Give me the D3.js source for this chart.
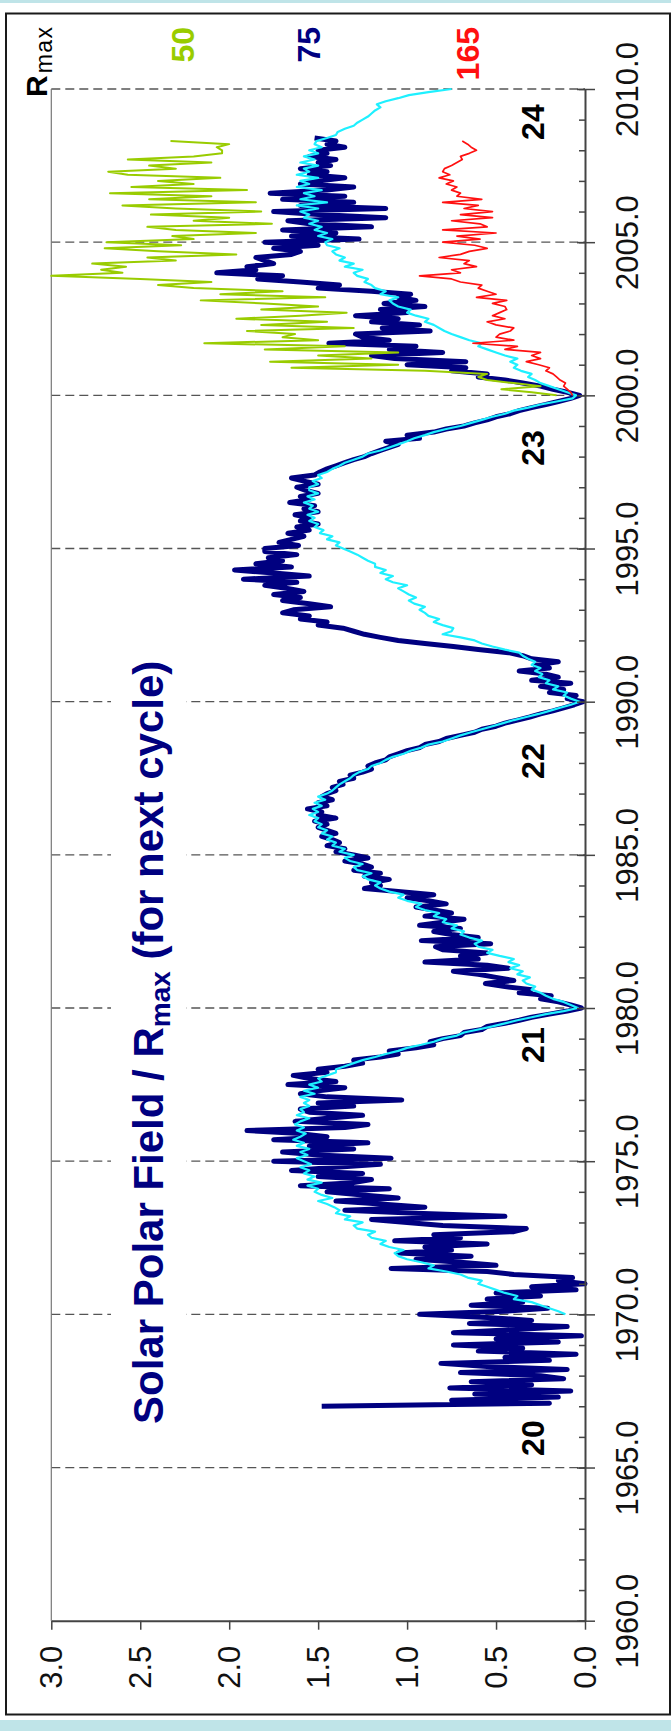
<!DOCTYPE html>
<html>
<head>
<meta charset="utf-8">
<script src="https://cdn.jsdelivr.net/npm/d3@7"></script>
<style>
html,body{margin:0;padding:0;background:#fff;}
svg{display:block;}
</style>
</head>
<body>
<svg id="chart" width="671" height="1731"></svg>
<script>
// ---------- data ----------
const yearTicks = [1960, 1965, 1970, 1975, 1980, 1985, 1990, 1995, 2000, 2005, 2010];
const gridYears = [1965, 1970, 1975, 1980, 1985, 1990, 1995, 2000, 2005, 2010];
const valueTicks = [0, 0.5, 1.0, 1.5, 2.0, 2.5, 3.0];
const cycleLabels = ["20", "21", "22", "23", "24"];
const cycleYears = [1965.96, 1978.79, 1988.06, 1998.28, 2008.92];
const rmaxLabels = ["50", "75", "165"];
const rmaxLabelValues = [2.26, 1.55, 0.66];
const step = 0.1;

// Observed polar field / Rmax (next cycle), navy, from 1967.0
const navyStart = 1967.0;
const navyValues = [
 1.48,0.20,0.75,0.15,0.62,0.08,0.76,0.30,0.64,0.12,
 0.25,0.70,0.10,0.55,0.81,0.20,0.45,0.05,0.60,0.35,
 0.74,0.15,0.50,0.02,0.74,0.40,0.10,0.65,0.30,0.55,
 0.93,0.45,0.21,0.64,0.35,0.55,0.25,0.50,0.05,0.30,
 0.00,0.15,0.07,0.40,0.55,1.09,0.50,0.70,0.95,0.64,
 1.05,0.75,0.90,0.55,1.07,0.70,0.85,0.40,0.33,0.80,
 1.00,1.20,0.45,0.95,1.35,0.90,1.15,1.40,1.05,1.25,
 1.45,1.10,1.60,1.30,1.20,1.50,1.25,1.65,1.40,1.15,
 1.75,1.09,1.50,1.70,1.30,1.55,1.22,1.75,1.45,1.60,
 1.90,1.35,1.22,1.63,1.45,1.25,1.55,1.60,1.30,1.50,
 1.03,1.45,1.60,1.50,1.35,1.67,1.40,1.55,1.64,1.45,
 1.50,1.35,1.25,1.30,1.15,1.05,1.10,0.95,0.85,0.87,
 0.80,0.70,0.68,0.58,0.55,0.45,0.37,0.30,0.20,0.10,
 0.02,0.08,0.15,0.25,0.19,0.37,0.30,0.45,0.56,0.40,
 0.50,0.60,0.74,0.43,0.55,0.90,0.60,0.70,0.55,0.80,
 0.84,0.53,0.92,0.60,0.75,0.85,0.70,0.93,0.80,0.68,
 0.90,0.75,0.85,0.95,0.78,0.88,1.00,0.85,1.05,1.24,
 1.15,1.20,1.10,1.24,1.15,1.30,1.20,1.25,1.35,1.22,
 1.30,1.40,1.35,1.45,1.38,1.42,1.48,1.40,1.45,1.50,
 1.45,1.52,1.40,1.50,1.48,1.56,1.45,1.50,1.42,1.48,
 1.45,1.40,1.42,1.36,1.38,1.30,1.32,1.25,1.20,1.22,
 1.18,1.12,1.10,1.05,1.00,0.93,0.90,0.82,0.78,0.70,
 0.62,0.58,0.50,0.45,0.38,0.31,0.25,0.18,0.12,0.06,
 0.01,0.10,0.05,0.20,0.12,0.25,0.08,0.30,0.15,0.22,
 0.37,0.20,0.28,0.15,0.30,0.35,0.43,0.60,0.74,0.90,
 1.05,1.15,1.24,1.30,1.36,1.50,1.45,1.60,1.55,1.70,
 1.64,1.43,1.55,1.70,1.60,1.75,1.58,1.68,1.80,1.62,
 1.92,1.55,1.75,1.97,1.65,1.85,1.70,1.78,1.62,1.80,
 1.80,1.61,1.72,1.65,1.58,1.67,1.55,1.62,1.50,1.60,
 1.55,1.63,1.50,1.58,1.52,1.66,1.55,1.60,1.50,1.57,
 1.62,1.50,1.58,1.65,1.52,1.49,1.45,1.40,1.35,1.30,
 1.24,1.20,1.15,1.10,1.05,1.12,0.93,1.00,0.85,0.78,
 0.68,0.62,0.55,0.50,0.42,0.37,0.30,0.22,0.15,0.08,
 0.03,0.10,0.18,0.25,0.35,0.45,0.60,0.55,0.75,0.67,
 1.00,0.67,1.07,1.20,0.80,1.10,0.95,1.44,1.10,1.25,
 1.29,0.87,1.14,0.93,1.20,1.05,1.29,1.00,1.15,0.90,
 1.13,0.95,1.05,0.98,1.20,1.50,1.38,1.60,1.84,1.70,
 2.07,1.85,1.90,1.75,1.80,1.85,1.65,1.60,1.75,1.50,
 1.80,1.27,1.65,1.40,1.70,1.20,1.55,1.67,1.12,1.50,
 1.75,1.12,1.60,1.30,1.70,1.35,1.77,1.45,1.30,1.60,
 1.50,1.35,1.55,1.45,1.60,1.43,1.50,1.40,1.55,1.45,
 1.50,1.35,1.45,1.40,1.52
];

// Second measurement, cyan, from 1970.0
const cyanStart = 1970.0;
const cyanValues = [
 0.11,0.15,0.20,0.25,0.30,0.40,0.38,0.45,0.50,0.55,
 0.60,0.58,0.66,0.70,0.78,0.88,0.85,0.92,1.00,1.05,
 1.07,1.02,1.10,1.15,1.12,1.20,1.22,1.18,1.28,1.30,
 1.25,1.35,1.32,1.40,1.38,1.41,1.45,1.50,1.42,1.48,
 1.52,1.50,1.56,1.48,1.56,1.52,1.58,1.55,1.60,1.54,
 1.58,1.62,1.56,1.60,1.55,1.62,1.58,1.64,1.60,1.57,
 1.62,1.58,1.63,1.60,1.55,1.62,1.58,1.60,1.55,1.58,
 1.55,1.60,1.52,1.58,1.50,1.55,1.48,1.50,1.45,1.40,
 1.40,1.35,1.30,1.25,1.18,1.12,1.05,1.00,0.92,0.85,
 0.80,0.72,0.68,0.60,0.52,0.45,0.38,0.30,0.22,0.12,
 0.04,0.08,0.12,0.18,0.22,0.25,0.30,0.28,0.33,0.35,
 0.31,0.38,0.35,0.42,0.37,0.43,0.40,0.48,0.55,0.52,
 0.60,0.62,0.58,0.65,0.70,0.68,0.75,0.72,0.80,0.78,
 0.85,0.82,0.90,0.95,0.92,1.00,1.05,1.02,1.10,1.15,
 1.18,1.15,1.22,1.25,1.20,1.28,1.30,1.25,1.32,1.35,
 1.30,1.38,1.35,1.42,1.40,1.45,1.42,1.48,1.45,1.50,
 1.48,1.52,1.50,1.55,1.50,1.53,1.48,1.52,1.46,1.50,
 1.45,1.42,1.40,1.38,1.35,1.32,1.30,1.27,1.22,1.20,
 1.15,1.12,1.08,1.02,0.98,0.92,0.88,0.80,0.75,0.70,
 0.64,0.58,0.52,0.46,0.40,0.33,0.26,0.20,0.14,0.08,
 0.03,0.08,0.12,0.10,0.18,0.15,0.22,0.20,0.26,0.24,
 0.28,0.25,0.30,0.28,0.32,0.35,0.37,0.45,0.52,0.58,
 0.62,0.70,0.80,0.75,0.74,0.80,0.85,0.82,0.88,0.90,
 0.93,0.90,0.96,0.99,0.95,0.99,1.02,1.05,1.00,1.08,
 1.12,1.08,1.15,1.12,1.18,1.18,1.22,1.25,1.28,1.32,
 1.36,1.40,1.38,1.45,1.42,1.49,1.47,1.52,1.50,1.55,
 1.52,1.56,1.50,1.55,1.53,1.58,1.52,1.56,1.50,1.55,
 1.55,1.50,1.53,1.48,1.50,1.45,1.42,1.38,1.35,1.30,
 1.25,1.22,1.15,1.10,1.05,1.00,0.96,0.90,0.85,0.78,
 0.70,0.64,0.58,0.52,0.45,0.40,0.32,0.25,0.16,0.07,
 0.05,0.10,0.15,0.20,0.25,0.28,0.32,0.30,0.36,0.40,
 0.38,0.42,0.38,0.45,0.50,0.55,0.60,0.58,0.65,0.70,
 0.75,0.79,0.82,0.85,0.90,0.88,0.95,1.00,0.98,1.05,
 1.08,1.10,1.05,1.15,1.12,1.18,1.20,1.24,1.22,1.28,
 1.30,1.25,1.35,1.30,1.38,1.35,1.40,1.42,1.38,1.45,
 1.46,1.42,1.50,1.45,1.52,1.48,1.55,1.50,1.58,1.55,
 1.60,1.50,1.62,1.45,1.60,1.52,1.58,1.48,1.62,1.55,
 1.60,1.50,1.62,1.55,1.58,1.50,1.60,1.52,1.58,1.50,
 1.55,1.48,1.52,1.51,1.45,1.40,1.39,1.35,1.30,1.28,
 1.25,1.22,1.20,1.18,1.15,1.17,1.12,1.05,0.99,0.88,
 0.75
];

// Cycle 24 normalised with Rmax = 50 (green)
const greenStart = 2000.0;
const greenValues = [
 0.16,0.30,0.47,0.25,0.40,0.55,0.60,0.55,0.90,1.65,
 1.05,1.77,1.20,1.50,1.05,1.80,1.35,2.14,1.50,1.70,
 1.63,1.90,1.30,1.82,1.45,1.96,1.60,1.34,1.82,1.50,
 1.80,2.16,1.46,2.05,1.70,2.20,2.40,2.10,2.50,3.00,
 2.60,2.72,2.58,2.77,2.30,2.46,1.96,2.40,2.70,2.27,
 2.69,2.20,2.32,1.85,2.30,2.46,1.76,2.20,2.00,2.44,
 1.82,2.30,2.60,1.85,2.45,2.10,2.67,1.90,2.55,2.20,
 2.40,2.05,2.57,2.68,2.30,2.45,2.10,2.57,2.20,2.04,
 2.04,2.07,2.00,2.33
];

// Cycle 24 normalised with Rmax = 165 (red)
const redStart = 2000.0;
const redValues = [
 0.07,0.08,0.10,0.12,0.11,0.14,0.16,0.18,0.22,0.20,
 0.26,0.33,0.25,0.30,0.25,0.45,0.38,0.63,0.40,0.50,
 0.48,0.42,0.40,0.50,0.55,0.45,0.52,0.48,0.44,0.45,
 0.52,0.44,0.61,0.50,0.55,0.60,0.58,0.70,0.75,0.93,
 0.70,0.75,0.61,0.68,0.65,0.82,0.70,0.65,0.55,0.62,
 0.80,0.59,0.72,0.50,0.80,0.55,0.59,0.75,0.52,0.70,
 0.52,0.68,0.60,0.80,0.58,0.72,0.70,0.75,0.72,0.78,
 0.74,0.82,0.76,0.80,0.79,0.75,0.72,0.69,0.70,0.65,
 0.61,0.64,0.66,0.69
];

// ---------- drawing ----------
const W = 671, H = 1731;
const FONT = "'Liberation Sans', Arial, Helvetica, sans-serif";
const svg = d3.select("#chart");

const y = d3.scaleLinear().domain([1960, 2010]).range([1620.7, 89]);   // years run vertically
const x = d3.scaleLinear().domain([0, 3]).range([585, 51.3]);          // values run horizontally (0 at right)

// page background bands and frame
svg.append("rect").attr("x", 0).attr("y", 0).attr("width", W).attr("height", H).attr("fill", "#fff");
svg.append("rect").attr("x", 0).attr("y", 0).attr("width", W).attr("height", 3).attr("fill", "#bfe4e8");
svg.append("rect").attr("x", 0).attr("y", 1720).attr("width", W).attr("height", H - 1720).attr("fill", "#bfe4e8");
svg.append("rect").attr("x", 6).attr("y", 13.5).attr("width", 664).attr("height", 1701)
  .attr("fill", "#fff").attr("stroke", "#1a1a1a").attr("stroke-width", 2);

// gridlines (dashed, every 5 years)
svg.append("g").selectAll("line").data(gridYears).join("line")
  .attr("x1", x(3)).attr("x2", x(0))
  .attr("y1", d => y(d)).attr("y2", d => y(d))
  .attr("stroke", "#555").attr("stroke-width", 1.3).attr("stroke-dasharray", "9,5");

// left plot border
svg.append("line").attr("x1", x(3)).attr("x2", x(3)).attr("y1", y(2010)).attr("y2", y(1960))
  .attr("stroke", "#777").attr("stroke-width", 1.2);

// title with white backing
const titleG = svg.append("g").attr("transform", `translate(163,1424) rotate(-90)`);
const titleBg = titleG.append("rect").attr("fill", "#fff");
const title = titleG.append("text")
  .attr("font-family", FONT).attr("font-weight", "bold").attr("font-size", 42)
  .attr("fill", "#000080");
title.append("tspan").text("Solar Polar Field / R");
title.append("tspan").attr("font-size", 28).attr("dy", 7).text("max");
title.append("tspan").attr("dy", -7).text(" (for next cycle)");
const tb = title.node().getBBox();
titleBg.attr("x", tb.x - 6).attr("y", tb.y - 14).attr("width", tb.width + 12).attr("height", tb.height + 24);

// series lines
const line = d3.line().x(d => x(d.v)).y(d => y(d.t)).curve(d3.curveLinear);
function toPts(start, vals) { return vals.map((v, i) => ({ t: start + i * step, v })); }

svg.append("path").datum(toPts(navyStart, navyValues))
  .attr("d", line).attr("fill", "none").attr("stroke", "#000080")
  .attr("stroke-width", 5).attr("stroke-linejoin", "round");
svg.append("path").datum(toPts(cyanStart, cyanValues))
  .attr("d", line).attr("fill", "none").attr("stroke", "#1ef0ff")
  .attr("stroke-width", 2.2).attr("stroke-linejoin", "round");
svg.append("path").datum(toPts(greenStart, greenValues))
  .attr("d", line).attr("fill", "none").attr("stroke", "#99cc00")
  .attr("stroke-width", 2).attr("stroke-linejoin", "round");
svg.append("path").datum(toPts(redStart, redValues))
  .attr("d", line).attr("fill", "none").attr("stroke", "#ff1010")
  .attr("stroke-width", 1.7).attr("stroke-linejoin", "round");

// right (year) axis: minor ticks every year, major every 5
const gYminor = svg.append("g").attr("transform", `translate(${x(0)},0)`)
  .call(d3.axisRight(y).tickValues(d3.range(1960, 2011, 1)).tickSize(-6).tickSizeOuter(0).tickFormat(""));
gYminor.select(".domain").attr("stroke", "#444").attr("stroke-width", 2);
gYminor.selectAll(".tick line").attr("stroke", "#444").attr("stroke-width", 1.5);

const gY = svg.append("g").attr("transform", `translate(${x(0)},0)`)
  .call(d3.axisRight(y).tickValues(yearTicks).tickSize(10).tickPadding(0).tickFormat(d3.format(".1f")));
gY.select(".domain").remove();
gY.selectAll(".tick line").attr("x1", -8).attr("stroke", "#444").attr("stroke-width", 1.5);
gY.selectAll(".tick text")
  .attr("x", 0).attr("dy", null)
  .attr("transform", "translate(42.5,0) rotate(-90)")
  .attr("text-anchor", "middle").attr("dominant-baseline", "central")
  .attr("font-family", FONT).attr("font-size", 31).attr("fill", "#111");

// bottom (value) axis
const gX = svg.append("g").attr("transform", `translate(0,${y(1960)})`)
  .call(d3.axisBottom(x).tickValues(valueTicks).tickSize(9).tickSizeOuter(0).tickFormat(d3.format(".1f")));
gX.select(".domain").attr("stroke", "#444").attr("stroke-width", 2);
gX.selectAll(".tick line").attr("stroke", "#444").attr("stroke-width", 1.5);
gX.selectAll(".tick text")
  .attr("y", 0).attr("dy", null)
  .attr("transform", "translate(0,46.5) rotate(-90)")
  .attr("text-anchor", "middle").attr("dominant-baseline", "central")
  .attr("font-family", FONT).attr("font-size", 31).attr("fill", "#111");

// cycle numbers
svg.append("g").selectAll("text").data(cycleLabels).join("text")
  .attr("transform", (d, i) => `translate(533,${y(cycleYears[i])}) rotate(-90)`)
  .attr("text-anchor", "middle").attr("dominant-baseline", "central")
  .attr("font-family", FONT).attr("font-weight", "bold").attr("font-size", 32).attr("fill", "#000")
  .text(d => d);

// Rmax header labels
const rmaxColors = ["#99cc00", "#000080", "#ff1010"];
svg.append("g").selectAll("text").data(rmaxLabels).join("text")
  .attr("transform", (d, i) => `translate(${x(rmaxLabelValues[i])},27) rotate(-90)`)
  .attr("text-anchor", "end").attr("dominant-baseline", "central")
  .attr("font-family", FONT).attr("font-weight", "bold").attr("font-size", 32)
  .attr("fill", (d, i) => rmaxColors[i])
  .text(d => d);

const rm = svg.append("text").attr("transform", "translate(47,97) rotate(-90)")
  .attr("font-family", FONT).attr("fill", "#000");
rm.append("tspan").attr("font-weight", "bold").attr("font-size", 30).text("R");
rm.append("tspan").attr("font-size", 23).attr("dx", 2).attr("dy", 5).attr("letter-spacing", 1.5).text("max");
</script>
</body>
</html>
